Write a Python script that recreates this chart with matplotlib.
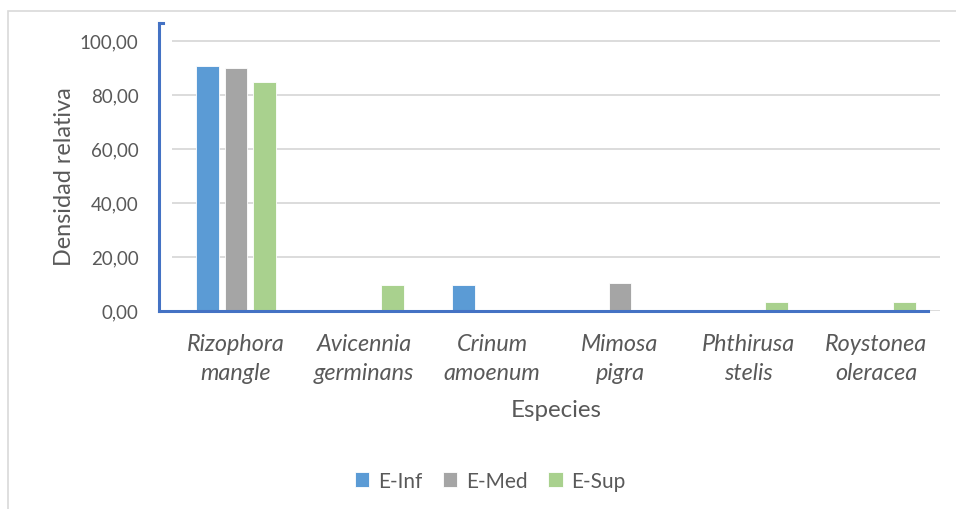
import matplotlib
matplotlib.use("Agg")
import matplotlib.pyplot as plt
import numpy as np
from matplotlib.patches import Rectangle
from matplotlib.lines import Line2D

categories = ["Rizophora\nmangle", "Avicennia\ngerminans", "Crinum\namoenum",
              "Mimosa\npigra", "Phthirusa\nstelis", "Roystonea\noleracea"]
series_names = ["E-Inf", "E-Med", "E-Sup"]
e_inf = [90.5, 0, 9.4, 0, 0, 0]
e_med = [90.0, 0, 0, 10.1, 0, 0]
e_sup = [84.6, 9.4, 0, 0, 3.3, 3.3]
colors = ["#5b9bd5", "#a5a5a5", "#a9d18e"]
yticks = [0, 20, 40, 60, 80, 100]

plt.rcParams['font.family'] = ['Lato', 'DejaVu Sans']
txt = "#595959"

W, H = 956, 510
fig = plt.figure(figsize=(W/100, H/100), dpi=100)
fig.patches.append(Rectangle((8/W, -0.1), 1.2, 1 - 12/H + 0.1, transform=fig.transFigure,
                             fill=False, edgecolor="#d9d9d9", linewidth=1.2))

left, right, top, bottom = 172, 940, 24, 311.7
ax = fig.add_axes([left/W, 1 - bottom/H, (right-left)/W, (bottom-top)/H])

x = np.arange(len(categories))
bw = 0.175
off = 0.222
for i, (vals, name) in enumerate(zip([e_inf, e_med, e_sup], series_names)):
    ax.bar(x + (i-1)*off, vals, width=bw, color=colors[i], label=name,
           edgecolor="white", linewidth=0.6, zorder=3)

ax.set_xlim(-0.5, len(categories) - 0.5)
ax.set_ylim(0, 106.6)
ax.set_yticks(yticks)
ax.set_yticklabels([f"{v:.2f}".replace(".", ",") for v in yticks], fontsize=13.5, color=txt)
ax.set_xticks(x)
ax.set_xticklabels(categories, fontsize=16.8, color=txt, style="italic", linespacing=1.45)
ax.tick_params(axis="both", length=0)
ax.tick_params(axis="y", pad=24)
ax.tick_params(axis="x", pad=16)
ax.grid(axis="y", color="#d9d9d9", linewidth=1.3, zorder=0)
for s in ax.spines.values():
    s.set_visible(False)

# blue axis lines
axw = right - left
ax.add_line(Line2D([-13/axw, -13/axw], [0, 1], transform=ax.transAxes, color="#4472c4",
                   linewidth=2.2, clip_on=False, zorder=5))
ax.add_line(Line2D([-13/axw, -9/axw], [1, 1], transform=ax.transAxes, color="#4472c4",
                   linewidth=2.2, clip_on=False, zorder=5))
ax.add_line(Line2D([-13/axw, (928-left)/axw], [0, 0], transform=ax.transAxes, color="#4472c4",
                   linewidth=2.2, clip_on=False, zorder=5))

ax.set_xlabel("Especies", fontsize=17.3, color=txt, labelpad=12)
ax.set_ylabel("Densidad relativa", fontsize=16.8, color=txt)
ax.yaxis.set_label_coords((75-left)/axw, (bottom-177)/(bottom-top))

fig.legend(loc="center", bbox_to_anchor=(490/W, 1 - 482/H), ncol=3, frameon=False,
           fontsize=15, labelcolor=txt, handlelength=0.7, handleheight=0.7,
           handletextpad=0.4, columnspacing=1.0)

fig.savefig("out.png", dpi=100)
